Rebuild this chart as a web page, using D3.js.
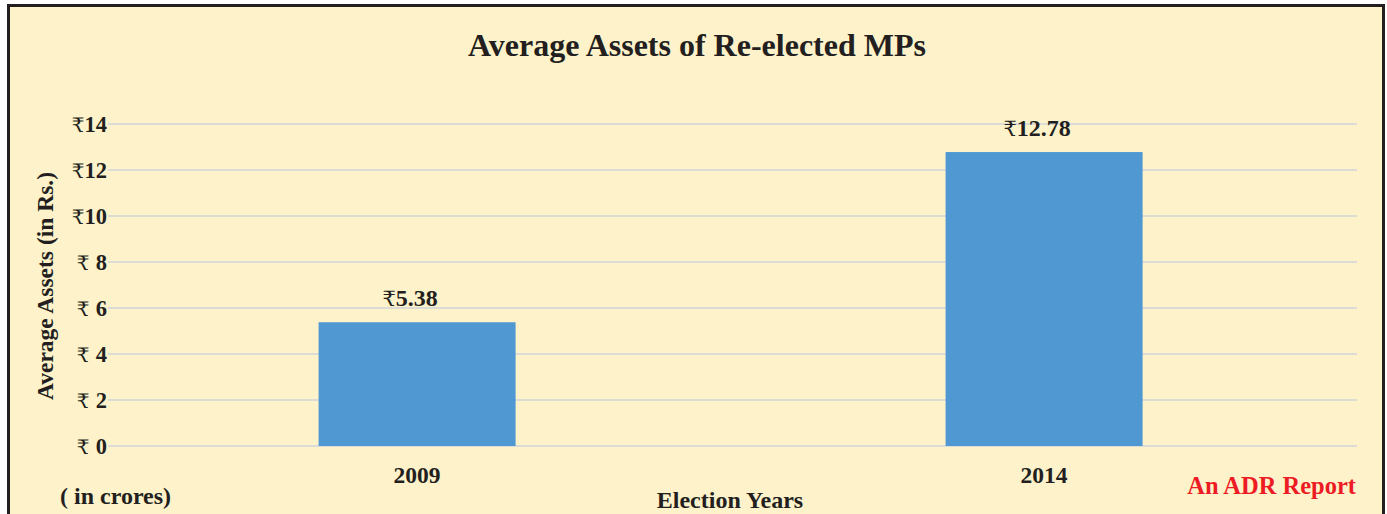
<!DOCTYPE html>
<html><head><meta charset="utf-8">
<script src="https://cdn.jsdelivr.net/npm/d3@7"></script>
<style>
html,body{margin:0;padding:0;background:#fff;}
svg text{font-family:"Liberation Serif","Times New Roman",serif;font-weight:bold;fill:#231f20;}
</style></head>
<body>
<script>
const categories = ["2009", "2014"];
const values = [5.38, 12.78];
const yTicks = [0, 2, 4, 6, 8, 10, 12, 14];
const title = "Average Assets of Re-elected MPs";
const yTitle = "Average Assets (in Rs.)";
const xTitle = "Election Years";
const unitNote = "( in crores)";
const credit = "An ADR Report";

const W = 1387, H = 514;
const svg = d3.select("body").append("svg").attr("width", W).attr("height", H);

// background panel with border
svg.append("rect").attr("x", 8.5).attr("y", 5.5).attr("width", 1375).attr("height", 520)
  .attr("fill", "#fdf2ca").attr("stroke", "#231f20").attr("stroke-width", 3);

const x0 = 108, x1 = 1357;
const y = d3.scaleLinear().domain([0, 14]).range([446, 124]);
const x = d3.scaleBand().domain(categories).range([103.6, 1357.6]).paddingInner(0.6858).paddingOuter(0.3429);

// gridlines
svg.append("g").selectAll("line").data(yTicks).join("line")
  .attr("x1", x0).attr("x2", x1)
  .attr("y1", d => y(d)).attr("y2", d => y(d))
  .attr("stroke", "#dcdcd6").attr("stroke-width", 2);

// y tick labels
const yl = svg.append("g").selectAll("text").data(yTicks).join("text")
  .attr("x", 107).attr("y", d => y(d)).attr("dy", "0.36em")
  .attr("text-anchor", "end").style("font-size", "22.5px");
yl.append("tspan").style("font-weight", "normal").style("font-family", "'DejaVu Serif','DejaVu Sans',serif").style("font-size", "20px")
  .text(d => d < 10 ? "₹ " : "₹");
yl.append("tspan").text(d => d);

// bars
svg.append("g").selectAll("rect").data(values).join("rect")
  .attr("x", (d, i) => x(categories[i]))
  .attr("width", x.bandwidth())
  .attr("y", d => y(d))
  .attr("height", d => y(0) - y(d))
  .attr("fill", "#4f98d2");

// value labels
const vl = svg.append("g").selectAll("text").data(values).join("text")
  .attr("x", (d, i) => x(categories[i]) + x.bandwidth() / 2 - 7)
  .attr("y", d => y(d) - 16)
  .attr("text-anchor", "middle").style("font-size", "24px");
vl.append("tspan").style("font-weight", "normal").style("font-family", "'DejaVu Serif','DejaVu Sans',serif").style("font-size", "21px").text("₹");
vl.append("tspan").text(d => d.toFixed(2));

// category labels
svg.append("g").selectAll("text").data(categories).join("text")
  .attr("x", d => x(d) + x.bandwidth() / 2).attr("y", 483)
  .attr("text-anchor", "middle").style("font-size", "23.5px").text(d => d);

// title
svg.append("text").attr("x", 697).attr("y", 56).attr("text-anchor", "middle")
  .style("font-size", "32px").text(title);

// y axis title
svg.append("text").attr("transform", "translate(53,286) rotate(-90)")
  .attr("text-anchor", "middle").style("font-size", "23.5px").text(yTitle);

// x axis title
svg.append("text").attr("x", 730).attr("y", 508).attr("text-anchor", "middle")
  .style("font-size", "24px").text(xTitle);

// unit note
svg.append("text").attr("x", 60).attr("y", 504).style("font-size", "24px").text(unitNote);

// credit
svg.append("text").attr("x", 1356).attr("y", 494).attr("text-anchor", "end")
  .style("font-size", "24.5px").style("fill", "#ed1c24").text(credit);
</script>
</body></html>
